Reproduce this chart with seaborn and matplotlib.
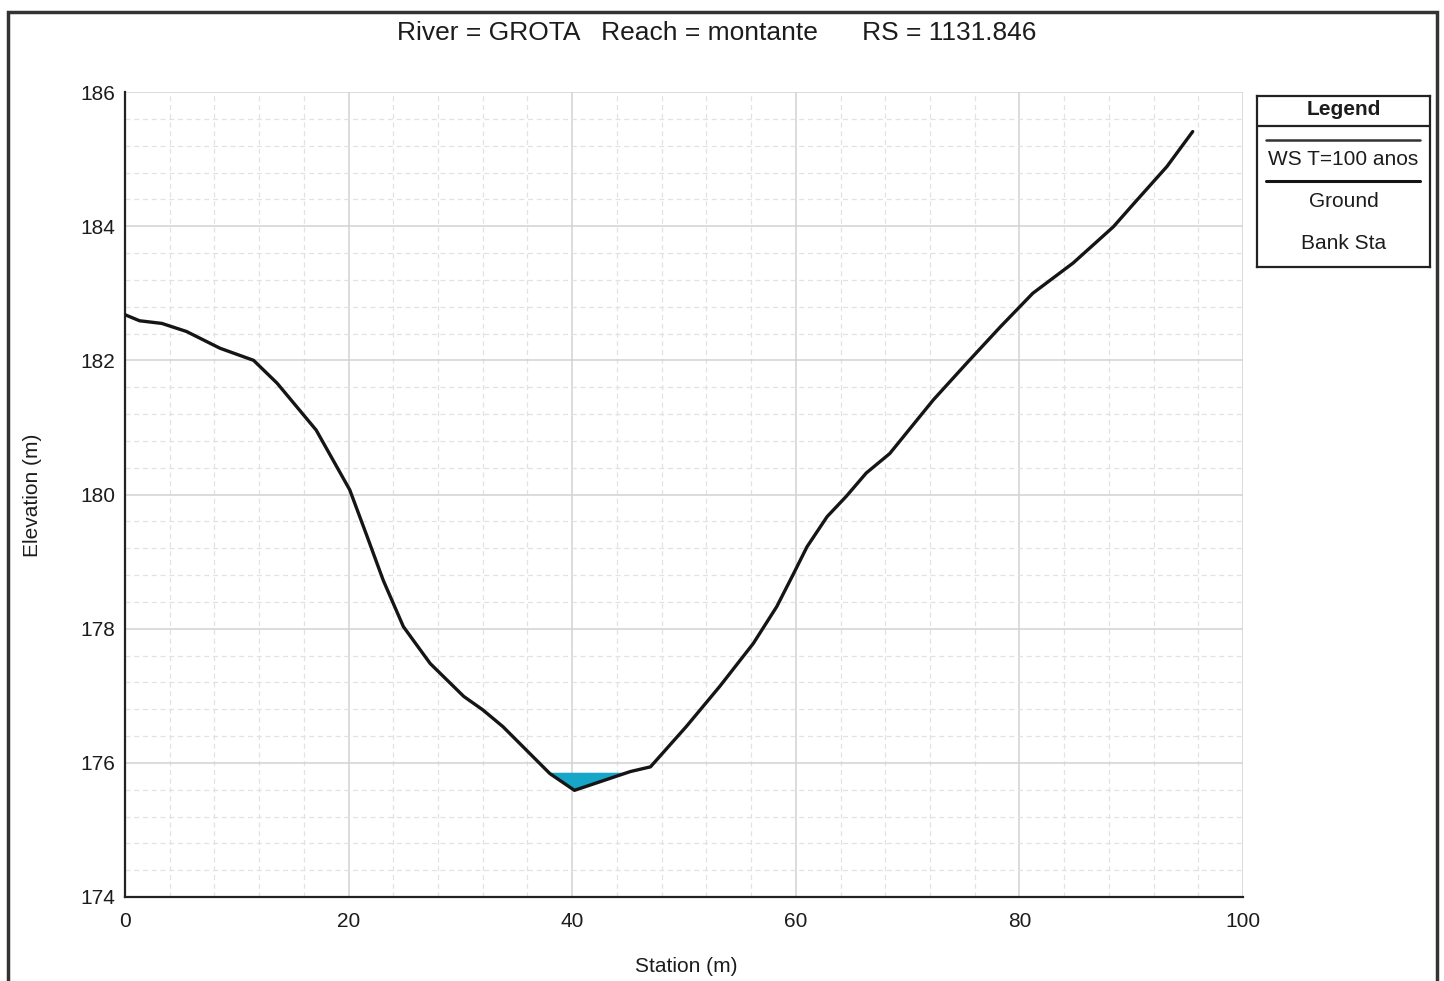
import numpy as np
import pandas as pd
import matplotlib.pyplot as plt
import seaborn as sns
from matplotlib.ticker import MultipleLocator
from matplotlib.patches import Rectangle

# Cross section survey
station = [0, 1.3, 3.3, 5.5, 8.5, 11.5, 13.6, 15.6, 17.1, 20.1, 21.6, 23.1,
           24.9, 27.3, 30.3, 32.0, 33.8, 35.6, 38.0, 40.2, 45.2, 47.0, 50.2,
           53.2, 56.2, 58.3, 59.8, 61.0, 62.8, 64.5, 66.3, 68.4, 72.3, 75.3,
           78.3, 81.2, 84.8, 88.4, 90.2, 93.2, 95.5]
elevation = [182.68, 182.59, 182.55, 182.43, 182.18, 182.0, 181.66, 181.26,
             180.96, 180.07, 179.4, 178.72, 178.03, 177.48, 176.99, 176.79,
             176.54, 176.24, 175.84, 175.59, 175.87, 175.94, 176.54, 177.14,
             177.78, 178.33, 178.82, 179.22, 179.67, 179.97, 180.32, 180.61,
             181.41, 181.96, 182.5, 183.0, 183.45, 183.99, 184.33, 184.89,
             185.41]
ws_elev = 175.86
legend_labels = ["WS T=100 anos", "Ground", "Bank Sta"]
title = "River = GROTA   Reach = montante      RS = 1131.846"

df = pd.DataFrame({"station": station, "elevation": elevation})

sns.set_style("white")
plt.rcParams["font.family"] = ["Liberation Sans", "DejaVu Sans"]
txt_color = "#1c1c1c"

fig = plt.figure(figsize=(14.44, 9.81), dpi=100)
ax = fig.add_axes([125 / 1444, 1 - 897 / 981, 1118 / 1444, 805 / 981])

# water surface fill
ax.fill_between(df["station"], df["elevation"], ws_elev,
                where=df["elevation"] < ws_elev, interpolate=True,
                color="#17a5c8", lw=0, zorder=2)
sns.lineplot(data=df, x="station", y="elevation", color="#151515", lw=2.4,
             sort=False, ax=ax, zorder=3)

ax.set_xlim(0, 100)
ax.set_ylim(174, 186)
ax.xaxis.set_major_locator(MultipleLocator(20))
ax.xaxis.set_minor_locator(MultipleLocator(4))
ax.yaxis.set_major_locator(MultipleLocator(2))
ax.yaxis.set_minor_locator(MultipleLocator(0.4))

ax.grid(which="major", color="#d2d2d2", lw=1.1, zorder=0)
ax.grid(which="minor", color="#e2e2e2", lw=0.9, ls=(0, (4, 3)), zorder=0)
ax.set_axisbelow(True)

for s in ["top", "right"]:
    ax.spines[s].set_visible(False)
for s in ["left", "bottom"]:
    ax.spines[s].set_color("#222222")
    ax.spines[s].set_linewidth(1.6)

ax.tick_params(which="major", direction="out", length=6, width=1.3,
               colors="#222222", labelsize=15, labelcolor=txt_color)
ax.tick_params(which="minor", direction="out", length=5, width=1.2,
               colors="#222222")
ax.tick_params(axis="x", which="major", pad=5)
ax.tick_params(axis="y", which="major", pad=1)
ax.set_xlabel("")
ax.set_ylabel("")

fig.text(717 / 1444, 1 - 33 / 981, title, ha="center", va="center",
         fontsize=19, color=txt_color)
fig.text(686 / 1444, 1 - 966 / 981, "Station (m)", ha="center", va="center",
         fontsize=15, color=txt_color)
fig.text(32 / 1444, 1 - 495 / 981, "Elevation (m)", ha="center", va="center",
         rotation=90, fontsize=15, color=txt_color)

# legend box in HEC-RAS style
lax = fig.add_axes([1257 / 1444, 1 - 267 / 981, 173 / 1444, 171 / 981])
lax.set_xlim(0, 1)
lax.set_ylim(0, 1)
lax.set_xticks([])
lax.set_yticks([])
for s in lax.spines.values():
    s.set_color("#222222")
    s.set_linewidth(1.6)
lax.text(0.5, 0.92, "Legend", ha="center", va="center", fontsize=15,
         fontweight="bold", color=txt_color)
lax.plot([0, 1], [0.825, 0.825], color="#222222", lw=1.6)
lax.plot([0.05, 0.94], [0.743, 0.743], color="#333333", lw=1.8)
lax.plot([0.05, 0.94], [0.503, 0.503], color="#151515", lw=2.2)
for lbl, yy in zip(legend_labels, [0.63, 0.385, 0.135]):
    lax.text(0.5, yy, lbl, ha="center", va="center", fontsize=15,
             color=txt_color)

# outer frame of the page
fig.add_artist(Rectangle((8 / 1444, -0.05), 1429 / 1444, 1.05 - 12 / 981,
                         transform=fig.transFigure, fill=False,
                         ec="#333333", lw=2.5))

fig.savefig("out.png", dpi=100)
